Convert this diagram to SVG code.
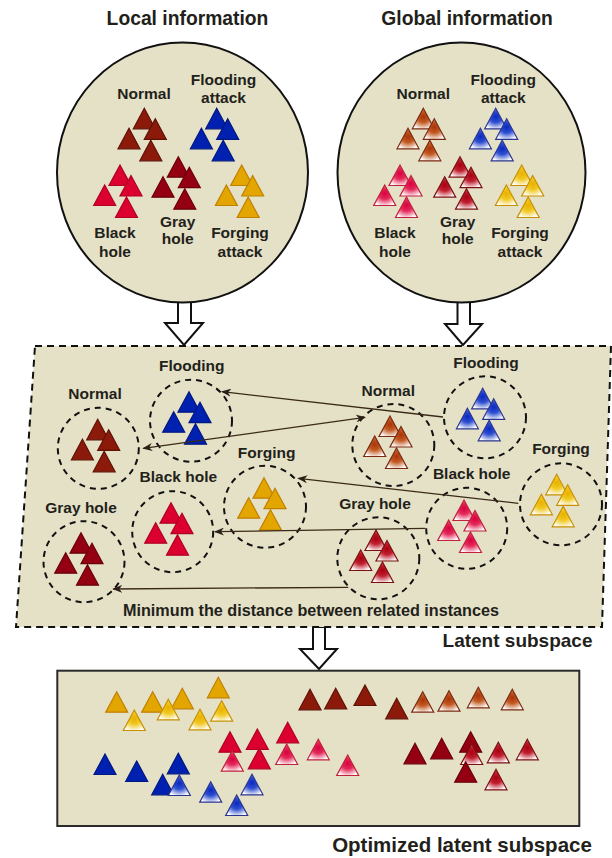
<svg xmlns="http://www.w3.org/2000/svg" xmlns:xlink="http://www.w3.org/1999/xlink" width="612" height="858" viewBox="0 0 612 858">
<style>
  .t { font-family: "Liberation Sans", Arial, sans-serif; font-weight: bold; fill: #231f1a; text-anchor: middle; }
  .lab { font-size: 15.5px; }
  .ttl { font-size: 19.3px; }
  .region { fill: #E5E1C7; stroke: #111; stroke-width: 2; }
  .dash { fill: none; stroke: #111; stroke-width: 2; stroke-dasharray: 6 5; }
  .blk { fill: #fff; stroke: #111; stroke-width: 2; stroke-linejoin: miter; }
  .conn { fill: none; stroke: #3b2a18; stroke-width: 1.3; }
  .nS { fill: #8B1A0A; stroke: #5e1206; }
  .fS { fill: #0020B0; stroke: #001880; }
  .bS { fill: #DC0030; stroke: #b00025; }
  .gS { fill: #940012; stroke: #6a000c; }
  .yS { fill: #E3A500; stroke: #c08000; }
  .nG { fill: url(#gN); stroke: #7a2a10; }
  .fG { fill: url(#gF); stroke: #2a3590; }
  .bG { fill: url(#gB); stroke: #c0203a; }
  .gG { fill: url(#gG); stroke: #7a1010; }
  .yG { fill: url(#gY); stroke: #c89000; }
</style>
<defs>
  <path id="tri" d="M0,0 L11,20.5 L-11,20.5 Z" stroke-width="1.2" stroke-linejoin="miter"/>
  <g id="cl">
    <use href="#tri"/>
    <use href="#tri" x="11" y="10.5"/>
    <use href="#tri" x="-15.3" y="20"/>
    <use href="#tri" x="6.5" y="32"/>
  </g>
  <radialGradient id="gN" cx="0.5" cy="0.45" r="0.6" fx="0.5" fy="0.4">
    <stop offset="0" stop-color="#A8340A"/><stop offset="0.45" stop-color="#C25A22"/><stop offset="1" stop-color="#FFFFFF"/>
  </radialGradient>
  <radialGradient id="gF" cx="0.5" cy="0.45" r="0.6" fx="0.5" fy="0.4">
    <stop offset="0" stop-color="#0A28C0"/><stop offset="0.45" stop-color="#2F4FD0"/><stop offset="1" stop-color="#FFFFFF"/>
  </radialGradient>
  <radialGradient id="gB" cx="0.5" cy="0.45" r="0.6" fx="0.5" fy="0.4">
    <stop offset="0" stop-color="#D80040"/><stop offset="0.45" stop-color="#E42A5A"/><stop offset="1" stop-color="#FFFFFF"/>
  </radialGradient>
  <radialGradient id="gG" cx="0.5" cy="0.45" r="0.6" fx="0.5" fy="0.4">
    <stop offset="0" stop-color="#A8000F"/><stop offset="0.45" stop-color="#C02030"/><stop offset="1" stop-color="#FFFFFF"/>
  </radialGradient>
  <radialGradient id="gY" cx="0.5" cy="0.45" r="0.6" fx="0.5" fy="0.4">
    <stop offset="0" stop-color="#E8B000"/><stop offset="0.45" stop-color="#F0C820"/><stop offset="1" stop-color="#FFFFFF"/>
  </radialGradient>
  <marker id="ah" viewBox="0 0 10 8" refX="9" refY="4" markerWidth="10" markerHeight="8" markerUnits="userSpaceOnUse" orient="auto-start-reverse">
    <path d="M0,0 L10,4 L0,8 L3,4 Z" fill="#2b2015"/>
  </marker>
</defs>

<!-- block arrows -->
<g id="arrows">
  <polygon class="blk" points="178,296 191,296 191,323 203,323 184,345 165,323 178,323"/>
  <polygon class="blk" points="457.5,296 470,296 470,324 482,324 463,345 445,324 457.5,324"/>
  <polygon class="blk" points="313,627 325,627 325,649 337,649 319,669 300,649 313,649"/>
</g>

<!-- titles -->
<text class="t ttl" x="187.5" y="25">Local information</text>
<text class="t ttl" x="467" y="25">Global information</text>

<!-- Local information circle -->
<g id="local">
  <ellipse class="region" cx="182.5" cy="172.5" rx="125.5" ry="130"/>
  <use href="#cl" class="nS" x="144.3" y="108.3"/>
  <use href="#cl" class="fS" x="216.7" y="108.3"/>
  <use href="#cl" class="bS" x="120" y="165"/>
  <use href="#cl" class="gS" x="178.3" y="156.7"/>
  <use href="#cl" class="yS" x="241.7" y="165"/>
  <text class="t lab" x="144" y="99">Normal</text>
  <text class="t lab" x="223.5" y="85">Flooding</text>
  <text class="t lab" x="223.5" y="102.5">attack</text>
  <text class="t lab" x="115" y="238.3">Black</text>
  <text class="t lab" x="115" y="256.5">hole</text>
  <text class="t lab" x="177.7" y="226.5">Gray</text>
  <text class="t lab" x="177.7" y="244.3">hole</text>
  <text class="t lab" x="240" y="238.3">Forging</text>
  <text class="t lab" x="240" y="256.5">attack</text>
</g>

<!-- Global information circle -->
<g id="global">
  <ellipse class="region" cx="461.5" cy="172.5" rx="124" ry="130"/>
  <use href="#cl" class="nG" x="423.3" y="108.3"/>
  <use href="#cl" class="fG" x="495.7" y="108.3"/>
  <use href="#cl" class="bG" x="400" y="165"/>
  <use href="#cl" class="gG" x="460" y="156.7"/>
  <use href="#cl" class="yG" x="521.7" y="165"/>
  <text class="t lab" x="423.3" y="99">Normal</text>
  <text class="t lab" x="503.3" y="85">Flooding</text>
  <text class="t lab" x="503.3" y="102.5">attack</text>
  <text class="t lab" x="395" y="238.3">Black</text>
  <text class="t lab" x="395" y="256.5">hole</text>
  <text class="t lab" x="457.7" y="226.5">Gray</text>
  <text class="t lab" x="457.7" y="244.3">hole</text>
  <text class="t lab" x="520" y="238.3">Forging</text>
  <text class="t lab" x="520" y="256.5">attack</text>
</g>

<!-- Latent subspace -->
<g id="latent">
  <polygon points="35,346 611,346 602,627 16,627" fill="#E5E1C7" stroke="#111" stroke-width="2" stroke-dasharray="7 5"/>
  <text class="t" style="font-size:19px" x="517.5" y="647">Latent subspace</text>
  <text class="t" style="font-size:16.2px" x="311" y="616">Minimum the distance between related instances</text>
</g>

<g id="lat-normal-local">
  <circle class="dash" cx="98.3" cy="448.3" r="40.5"/>
  <use href="#cl" class="nS" x="97.7" y="419.3"/>
  <text class="t lab" x="95" y="399">Normal</text>
</g>
<g id="lat-flooding-local">
  <circle class="dash" cx="191" cy="420.7" r="41"/>
  <use href="#cl" class="fS" x="189" y="391.7"/>
  <text class="t lab" x="191.7" y="371">Flooding</text>
</g>
<g id="lat-black-local">
  <circle class="dash" cx="172.7" cy="531.7" r="40.5"/>
  <use href="#cl" class="bS" x="171" y="502.7"/>
  <text class="t lab" x="178.3" y="482.3">Black hole</text>
</g>
<g id="lat-gray-local">
  <circle class="dash" cx="84" cy="561.7" r="40.5"/>
  <use href="#cl" class="gS" x="81" y="532.7"/>
  <text class="t lab" x="81" y="512.7">Gray hole</text>
</g>
<g id="lat-forging-local">
  <circle class="dash" cx="265" cy="506.7" r="41"/>
  <use href="#cl" class="yS" x="264" y="477.7"/>
  <text class="t lab" x="266.7" y="457.7">Forging</text>
</g>
<g id="lat-normal-global">
  <circle class="dash" cx="393.3" cy="445" r="41"/>
  <use href="#cl" class="nG" x="390" y="416"/>
  <text class="t lab" x="388.3" y="395.7">Normal</text>
</g>
<g id="lat-flooding-global">
  <circle class="dash" cx="485" cy="417.3" r="41"/>
  <use href="#cl" class="fG" x="482.7" y="388.3"/>
  <text class="t lab" x="486" y="367.7">Flooding</text>
</g>
<g id="lat-black-global">
  <circle class="dash" cx="466.7" cy="528.3" r="40.5"/>
  <use href="#cl" class="bG" x="464" y="500"/>
  <text class="t lab" x="471.7" y="478.7">Black hole</text>
</g>
<g id="lat-gray-global">
  <circle class="dash" cx="378.3" cy="558.3" r="41"/>
  <use href="#cl" class="gG" x="376" y="530"/>
  <text class="t lab" x="375" y="509.3">Gray hole</text>
</g>
<g id="lat-forging-global">
  <circle class="dash" cx="561" cy="504.3" r="41"/>
  <use href="#cl" class="yG" x="556.7" y="474.3"/>
  <text class="t lab" x="561" y="454.3">Forging</text>
</g>

<!-- connectors -->
<g id="connectors">
  <line class="conn" x1="443" y1="417" x2="222" y2="391.7" marker-end="url(#ah)"/>
  <line class="conn" x1="143.3" y1="448.3" x2="365" y2="417.3" marker-start="url(#ah)" marker-end="url(#ah)"/>
  <line class="conn" x1="518.3" y1="503.3" x2="298.3" y2="478.3" marker-end="url(#ah)"/>
  <line class="conn" x1="425" y1="528.3" x2="215" y2="531.7" marker-end="url(#ah)"/>
  <line class="conn" x1="348.3" y1="587.3" x2="113.3" y2="589" marker-end="url(#ah)"/>
</g>

<!-- Optimized latent subspace -->
<g id="optimized">
  <rect x="57.3" y="670.7" width="522" height="155.3" fill="#E5E1C7" stroke="#2a2a2a" stroke-width="2"/>
  <use href="#tri" class="yS" x="116.7" y="691.7"/>
  <use href="#tri" class="yS" x="152.7" y="691.7"/>
  <use href="#tri" class="yG" x="134.3" y="710"/>
  <use href="#tri" class="yS" x="182.3" y="688.3"/>
  <use href="#tri" class="yG" x="168.3" y="699.3"/>
  <use href="#tri" class="yG" x="200" y="709.3"/>
  <use href="#tri" class="yS" x="218.3" y="677.3"/>
  <use href="#tri" class="yG" x="221.7" y="700.7"/>
  <use href="#tri" class="bS" x="230" y="731.7"/>
  <use href="#tri" class="bS" x="257.3" y="729"/>
  <use href="#tri" class="bG" x="232.3" y="750.7"/>
  <use href="#tri" class="bS" x="259.3" y="748.3"/>
  <use href="#tri" class="bS" x="287.7" y="722.3"/>
  <use href="#tri" class="bG" x="286.7" y="744"/>
  <use href="#tri" class="bG" x="318.3" y="739.3"/>
  <use href="#tri" class="bG" x="347.7" y="755"/>
  <use href="#tri" class="fS" x="105" y="754"/>
  <use href="#tri" class="fS" x="136.7" y="761"/>
  <use href="#tri" class="fS" x="178.3" y="753.3"/>
  <use href="#tri" class="fS" x="162.7" y="774.3"/>
  <use href="#tri" class="fG" x="179.3" y="775"/>
  <use href="#tri" class="fG" x="210.7" y="781.7"/>
  <use href="#tri" class="fG" x="252" y="774.3"/>
  <use href="#tri" class="fG" x="236.7" y="795"/>
  <use href="#tri" class="nS" x="310" y="689.3"/>
  <use href="#tri" class="nS" x="335.7" y="688.3"/>
  <use href="#tri" class="nS" x="365" y="685"/>
  <use href="#tri" class="nS" x="396.7" y="698.3"/>
  <use href="#tri" class="nG" x="422.7" y="691.7"/>
  <use href="#tri" class="nG" x="449" y="690.7"/>
  <use href="#tri" class="nG" x="478.3" y="687.3"/>
  <use href="#tri" class="nG" x="512.3" y="689.3"/>
  <use href="#tri" class="gS" x="415" y="743.3"/>
  <use href="#tri" class="gS" x="441.7" y="738.3"/>
  <use href="#tri" class="gS" x="470.7" y="731.7"/>
  <use href="#tri" class="gG" x="471.7" y="744"/>
  <use href="#tri" class="gS" x="465.7" y="761.7"/>
  <use href="#tri" class="gG" x="498.3" y="742.3"/>
  <use href="#tri" class="gG" x="527.3" y="739.3"/>
  <use href="#tri" class="gG" x="496" y="769.3"/>
  <text class="t" style="font-size:20.5px" x="462" y="852">Optimized latent subspace</text>
</g>
</svg>
